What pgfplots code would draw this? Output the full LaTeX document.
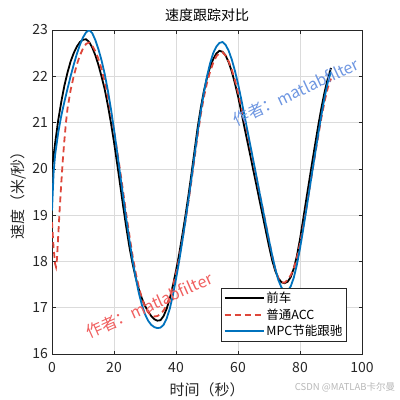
\documentclass[border=0pt]{standalone}
\usepackage{fontspec}
\setmainfont{Noto Sans CJK SC}
\usepackage{pgfplots}
\pgfplotsset{compat=1.18}
\definecolor{axgray}{RGB}{38,38,38}
\definecolor{mblue}{RGB}{0,114,189}
\definecolor{mred}{RGB}{222,70,58}
\definecolor{wmblue}{RGB}{110,150,225}
\definecolor{wmred}{RGB}{240,95,95}
\begin{document}
\begin{tikzpicture}
\path[use as bounding box] (0,0) rectangle (400bp,400bp);
\begin{axis}[
  at={(52bp,46bp)}, anchor=south west,
  width=310bp, height=324bp, scale only axis,
  xmin=0, xmax=100, ymin=16, ymax=23,
  xtick={0,20,40,60,80,100}, ytick={16,17,18,19,20,21,22,23},
  grid=major, major grid style={draw=black!14, line width=0.5bp},
  axis line style={draw=axgray, line width=0.7bp},
  tick style={draw=axgray, line width=0.7bp},
  tick align=inside, major tick length=3.5bp, tick pos=both,
  ticklabel style={font=\fontsize{14bp}{16bp}\selectfont, text=axgray},
  /pgf/number format/assume math mode=true,
  xticklabel style={yshift=-5bp},
  yticklabel style={xshift=-0.5bp},
  title={速度跟踪对比},
  title style={font=\fontsize{14bp}{16bp}\selectfont, text=black, at={(axis description cs:0.5,1.026)}, anchor=center},
  xlabel={时间（秒）},
  xlabel style={font=\fontsize{15bp}{17bp}\selectfont, text=axgray, at={(axis description cs:0.5,-0.111)}, anchor=center},
  ylabel={速度（米/秒）},
  ylabel style={font=\fontsize{15bp}{17bp}\selectfont, text=axgray, at={(axis description cs:-0.1097,0.5)}, anchor=center},
  legend style={at={(0.951,0.038)}, anchor=south east, font=\fontsize{12.5bp}{14bp}\selectfont, draw=axgray, line width=0.7bp, fill=white, inner sep=2bp, row sep=0.5bp},
  legend cell align=left,
  legend image code/.code={\draw[#1, line width=1.8bp] (0bp,0bp) -- (39bp,0bp);},
  clip mode=individual,
]
\addplot[black, line width=1.8bp] coordinates {
(0,20.00)(1,20.55)(2,21.05)(3,21.45)(4,21.80)(5,22.08)(6,22.32)(7,22.50)(8,22.64)(9,22.74)(10,22.79)(11,22.80)(12,22.74)(13,22.62)(14,22.45)(15,22.24)(16,21.99)(17,21.72)(18,21.38)(19,21.00)(20,20.58)(21,20.12)(22,19.65)(23,19.17)(24,18.72)(25,18.30)(26,17.95)(27,17.65)(28,17.40)(29,17.20)(30,17.04)(31,16.92)(32,16.82)(33,16.75)(34,16.72)(35,16.73)(36,16.82)(37,16.98)(38,17.20)(39,17.48)(40,17.80)(41,18.15)(42,18.55)(43,18.97)(44,19.42)(45,19.90)(46,20.40)(47,20.90)(48,21.32)(49,21.68)(50,21.97)(51,22.20)(52,22.37)(53,22.49)(54,22.55)(55,22.53)(56,22.45)(57,22.30)(58,22.10)(59,21.85)(60,21.57)(61,21.25)(62,20.92)(63,20.60)(64,20.28)(65,19.95)(66,19.63)(67,19.30)(68,18.98)(69,18.65)(70,18.33)(71,18.03)(72,17.80)(73,17.64)(74,17.55)(75,17.53)(76,17.56)(77,17.66)(78,17.85)(79,18.12)(80,18.48)(81,18.90)(82,19.33)(83,19.75)(84,20.17)(85,20.58)(86,20.98)(87,21.35)(88,21.68)(89,21.96)(90,22.18)
};
\addlegendentry{前车}
\addplot[mred, line width=1.8bp, dash pattern=on 6bp off 4bp] coordinates {
(0,18.85)(0.5,18.30)(1,17.95)(1.3,17.88)(1.6,18.05)(2,18.55)(2.5,19.15)(3,19.70)(3.5,20.20)(4,20.62)(4.5,21.00)(5,21.30)(6,21.70)(7,22.00)(8,22.25)(9,22.45)(10,22.60)(11,22.70)(12,22.73)(13,22.66)(14,22.54)(15,22.37)(16,22.15)(17,21.88)(18,21.57)(19,21.22)(20,20.83)(21,20.40)(22,19.95)(23,19.48)(24,19.00)(25,18.55)(26,18.12)(27,17.75)(28,17.45)(29,17.20)(30,17.02)(31,16.90)(32,16.84)(33,16.81)(34,16.82)(35,16.86)(36,16.94)(37,17.06)(38,17.24)(39,17.47)(40,17.74)(41,18.07)(42,18.44)(43,18.85)(44,19.28)(45,19.75)(46,20.24)(47,20.73)(48,21.18)(49,21.55)(50,21.86)(51,22.10)(52,22.29)(53,22.43)(54,22.50)(55,22.52)(56,22.45)(57,22.32)(58,22.14)(59,21.92)(60,21.65)(61,21.37)(62,21.08)(63,20.78)(64,20.45)(65,20.12)(66,19.79)(67,19.46)(68,19.14)(69,18.80)(70,18.46)(71,18.13)(72,17.84)(73,17.64)(74,17.55)(75,17.54)(76,17.60)(77,17.70)(78,17.85)(79,18.08)(80,18.38)(81,18.74)(82,19.13)(83,19.54)(84,19.95)(85,20.36)(86,20.76)(87,21.14)(88,21.48)(89,21.76)(90,21.95)
};
\addlegendentry{普通ACC}
\addplot[mblue, line width=1.8bp] coordinates {
(0,19.10)(0.5,19.90)(1,20.30)(2,20.78)(3,21.15)(4,21.45)(5,21.73)(6,22.00)(7,22.25)(8,22.48)(9,22.68)(10,22.84)(11,22.95)(12,23.00)(13,22.93)(14,22.78)(15,22.58)(16,22.34)(17,22.05)(18,21.70)(19,21.30)(20,20.85)(21,20.37)(22,19.87)(23,19.38)(24,18.90)(25,18.45)(26,18.02)(27,17.65)(28,17.32)(29,17.06)(30,16.86)(31,16.72)(32,16.63)(33,16.58)(34,16.56)(35,16.57)(36,16.63)(37,16.77)(38,16.98)(39,17.27)(40,17.62)(41,18.00)(42,18.42)(43,18.86)(44,19.32)(45,19.80)(46,20.30)(47,20.80)(48,21.25)(49,21.65)(50,22.00)(51,22.28)(52,22.50)(53,22.64)(54,22.72)(55,22.74)(56,22.68)(57,22.55)(58,22.36)(59,22.12)(60,21.84)(61,21.52)(62,21.18)(63,20.84)(64,20.50)(65,20.16)(66,19.82)(67,19.47)(68,19.13)(69,18.79)(70,18.46)(71,18.14)(72,17.85)(73,17.60)(74,17.44)(75,17.36)(76,17.36)(77,17.46)(78,17.65)(79,17.93)(80,18.28)(81,18.68)(82,19.10)(83,19.53)(84,19.96)(85,20.38)(86,20.80)(87,21.20)(88,21.57)(89,21.88)(90,22.10)
};
\addlegendentry{MPC节能跟驰}
\node[text=wmblue, rotate=25, font=\fontsize{16bp}{18bp}\selectfont, inner sep=0pt] at (axis cs:78.7,21.66) {作者：matlabfilter};
\node[text=wmred, rotate=24, font=\fontsize{16bp}{18bp}\selectfont, inner sep=0pt] at (axis cs:31.4,17.05) {作者：matlabfilter};
\end{axis}
\node[text=black!28, font=\fontsize{9.5bp}{11bp}\selectfont, inner sep=0pt] at (345bp,13bp) {CSDN @MATLAB卡尔曼};
\end{tikzpicture}
\end{document}
